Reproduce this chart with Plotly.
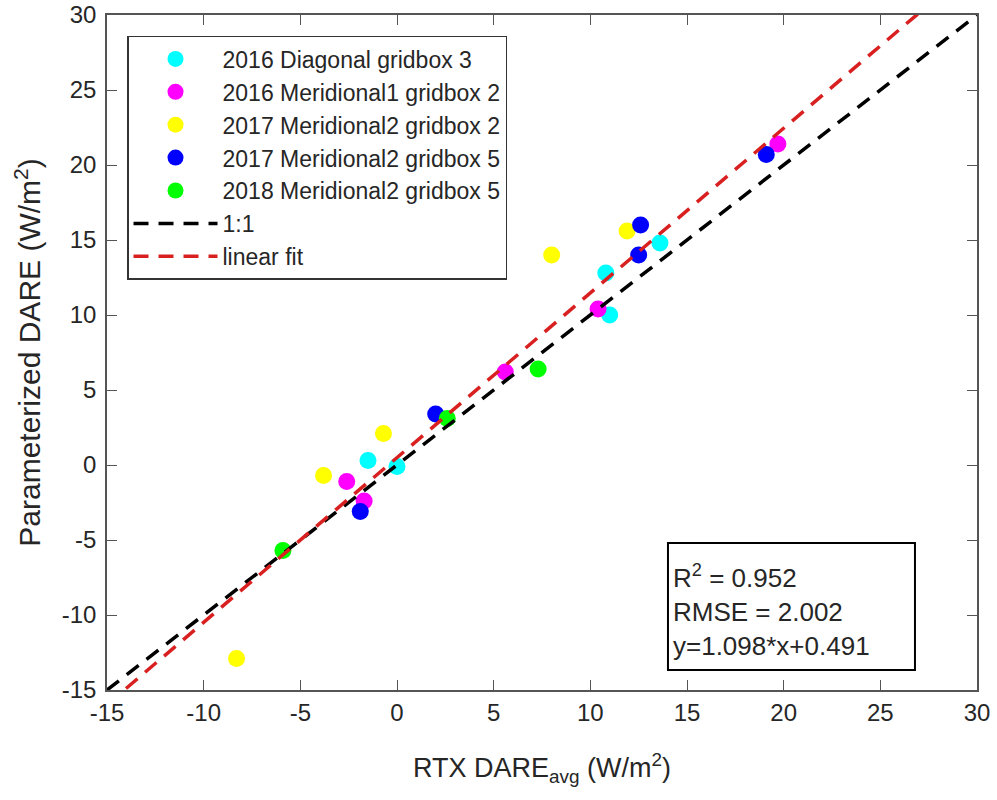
import plotly.graph_objects as go

# ---- data ----
series_names = [
    "2016 Diagonal gridbox 3",
    "2016 Meridional1 gridbox 2",
    "2017 Meridional2 gridbox 2",
    "2017 Meridional2 gridbox 5",
    "2018 Meridional2 gridbox 5",
]
series_colors = ["#00FFFF", "#FF00FF", "#FFFF00", "#0000FF", "#00FF00"]

diag16_x = [-1.5, 0.0, 10.8, 11.0, 13.6]
diag16_y = [0.3, -0.1, 12.8, 10.0, 14.8]

mer1_16_x = [-2.6, -1.7, 5.6, 10.4, 19.7]
mer1_16_y = [-1.1, -2.4, 6.2, 10.4, 21.4]

mer2_17_g2_x = [-3.8, -0.7, -8.3, 8.0, 11.9]
mer2_17_g2_y = [-0.7, 2.1, -12.9, 14.0, 15.6]

mer2_17_g5_x = [-1.9, 2.0, 12.5, 12.6, 19.1]
mer2_17_g5_y = [-3.1, 3.4, 14.0, 16.0, 20.7]

mer2_18_g5_x = [-5.9, 2.6, 7.3]
mer2_18_g5_y = [-5.7, 3.1, 6.4]

xs = [diag16_x, mer1_16_x, mer2_17_g2_x, mer2_17_g5_x, mer2_18_g5_x]
ys = [diag16_y, mer1_16_y, mer2_17_g2_y, mer2_17_g5_y, mer2_18_g5_y]

line_x = [-15, 30]
fit_slope = 1.098
fit_intercept = 0.491
r2 = 0.952
rmse = 2.002

tick_vals = [-15, -10, -5, 0, 5, 10, 15, 20, 25, 30]
tick_text = ["-15", "-10", "-5", "0", "5", "10", "15", "20", "25", "30"]

FONT = "Liberation Sans, Arial, sans-serif"

fig = go.Figure()
for name, col, x, y in zip(series_names, series_colors, xs, ys):
    fig.add_trace(go.Scatter(
        x=x, y=y, mode="markers", name=name,
        marker=dict(color=col, size=17, line=dict(width=0)),
        cliponaxis=False,
    ))

fig.add_trace(go.Scatter(
    x=line_x, y=line_x, mode="lines", name="1:1",
    line=dict(color="black", width=3.5, dash="15px,10px"),
))
fig.add_trace(go.Scatter(
    x=line_x, y=[fit_slope * v + fit_intercept for v in line_x],
    mode="lines", name="linear fit",
    line=dict(color="#D92020", width=3.5, dash="15px,10px"),
))

axis_common = dict(
    range=[-15, 30], tickvals=tick_vals, ticktext=tick_text, ticks="inside", ticklen=10,
    tickcolor="#555555", tickwidth=1, showline=True, linecolor="#555555",
    linewidth=1.5, mirror="ticks", showgrid=False, zeroline=False, automargin=False,
    tickfont=dict(family=FONT, size=24, color="#262626"),
)

fig.update_xaxes(
    **axis_common,
    title=dict(text="RTX DARE<sub>avg</sub> (W/m<sup>2</sup>)",
               font=dict(family=FONT, size=27, color="#262626"), standoff=34),
)
fig.update_yaxes(
    **axis_common,
    ticklabelstandoff=4,
    title=dict(text="Parameterized DARE (W/m<sup>2</sup>)",
               font=dict(family=FONT, size=30, color="#262626"), standoff=12),
)

# statistics text box
fig.add_shape(
    type="rect", xref="paper", yref="paper",
    x0=0.6448, x1=0.9287, y0=0.0296, y1=0.2178,
    line=dict(color="black", width=2), fillcolor="white", layer="above",
)
fig.add_annotation(
    xref="paper", yref="paper", x=0.6494, y=0.1185, xanchor="left", yanchor="middle",
    text=f"R<sup>2</sup> = {r2:.3f}<br>RMSE = {rmse:.3f}<br>y={fit_slope:.3f}*x+{fit_intercept:.3f}",
    showarrow=False, align="left",
    font=dict(family=FONT, size=26, color="#262626"),
    borderpad=0,
)

fig.update_layout(
    width=997, height=800,
    margin=dict(l=107, r=20, t=15, b=110),
    plot_bgcolor="white", paper_bgcolor="white",
    font=dict(family=FONT, color="#262626"),
    legend=dict(
        x=0.023, y=0.969, xanchor="left", yanchor="top",
        bgcolor="white", bordercolor="#333333", borderwidth=1.5,
        font=dict(family=FONT, size=23, color="#262626"),
        itemwidth=84,
    ),
)

fig.write_html("out.html")
